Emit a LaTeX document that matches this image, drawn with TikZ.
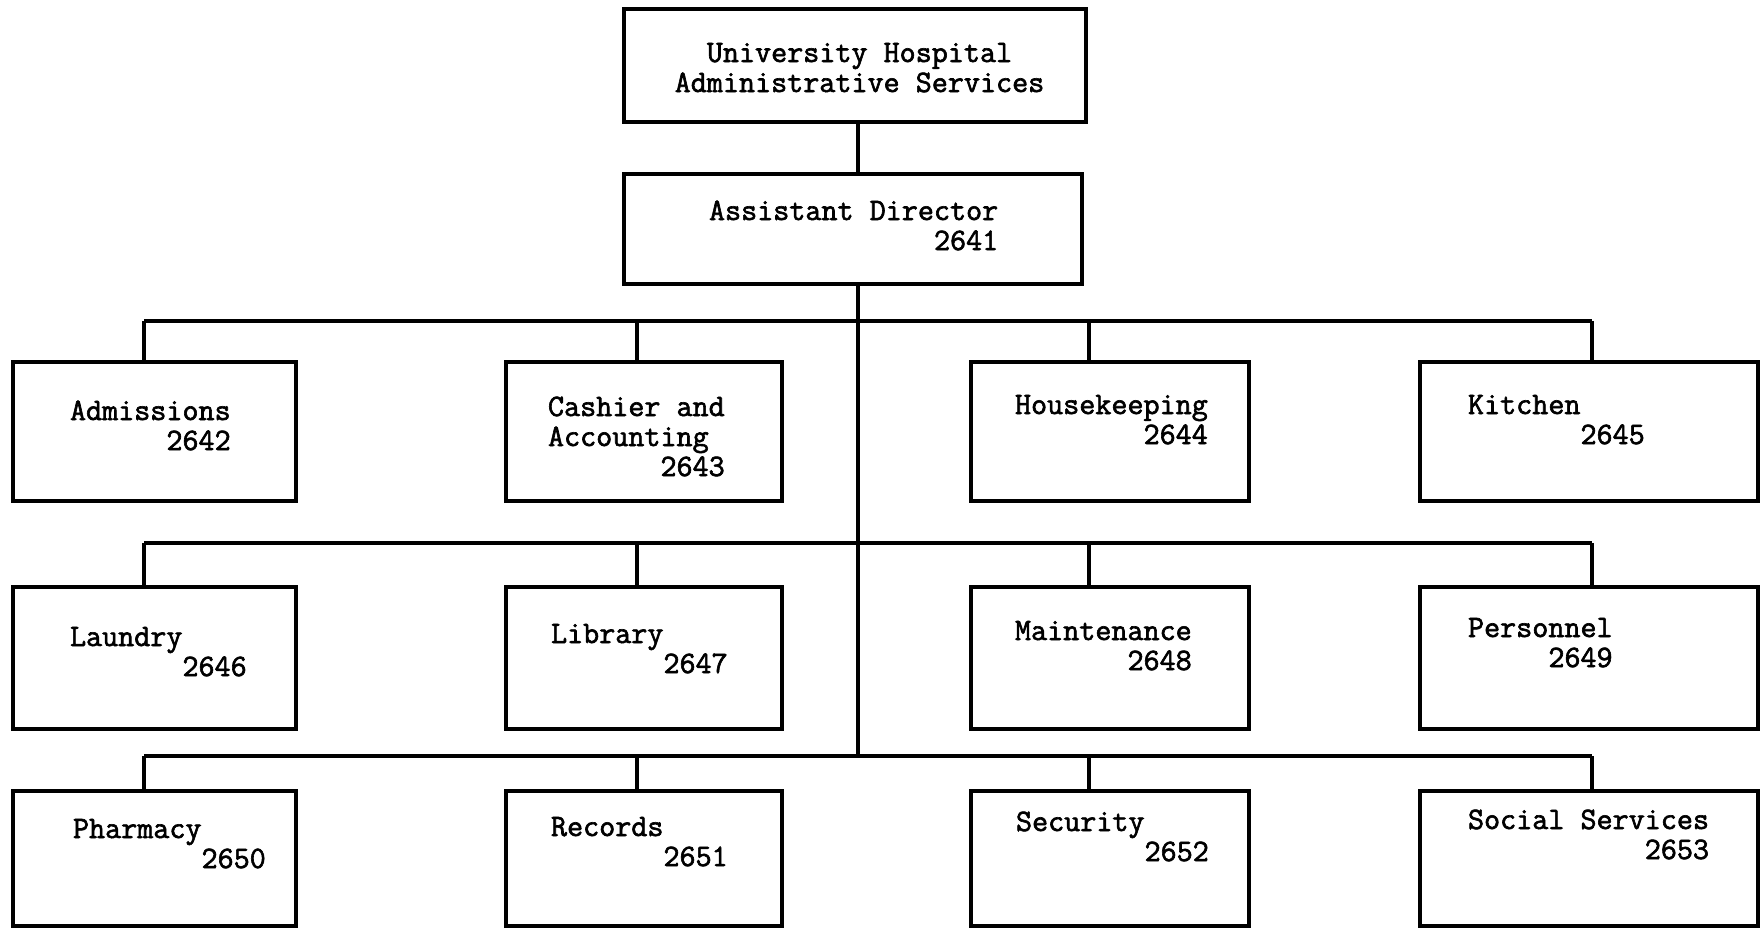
\documentclass[tikz,border=0pt]{standalone}
\usepackage{fontspec}
\newfontfamily\twfont[FakeBold=2]{Latin Modern Mono}
\begin{document}
\begin{tikzpicture}[x=1pt,y=-1pt,
  every node/.style={inner sep=0pt,outer sep=0pt},
  box/.style={draw,rectangle,line width=3.4pt},
  txt/.style={anchor=base west,font=\fontsize{31.2}{30}\selectfont\twfont},
  wire/.style={line width=3.4pt}]
\useasboundingbox (0,0) rectangle (1764,930);
% boxes
\node[box,minimum width=462,minimum height=113] (top) at (855,65.5) {};
\node[box,minimum width=458,minimum height=110] (ad) at (853,229) {};
\node[box,minimum width=283,minimum height=139] (adm) at (154.5,431.5) {};
\node[box,minimum width=276,minimum height=139] (cash) at (644,431.5) {};
\node[box,minimum width=278,minimum height=139] (hk) at (1110,431.5) {};
\node[box,minimum width=338,minimum height=139] (kit) at (1589,431.5) {};
\node[box,minimum width=283,minimum height=142] (lau) at (154.5,658) {};
\node[box,minimum width=276,minimum height=142] (lib) at (644,658) {};
\node[box,minimum width=278,minimum height=142] (mnt) at (1110,658) {};
\node[box,minimum width=338,minimum height=142] (per) at (1589,658) {};
\node[box,minimum width=283,minimum height=135] (pha) at (154.5,858.5) {};
\node[box,minimum width=276,minimum height=135] (rec) at (644,858.5) {};
\node[box,minimum width=278,minimum height=135] (sec) at (1110,858.5) {};
\node[box,minimum width=338,minimum height=135] (soc) at (1589,858.5) {};
% texts (anchor = baseline of the last line)
\node[txt,anchor=base,align=center] (ttop) at (859.5,92) {University Hospital\\Administrative Services};
\node[txt,align=right] (tad) at (709,250) {Assistant Director\\2641};
\node[txt,align=right] (tadm) at (70,450) {Admissions\\2642};
\node[txt,align=left] (tcash) at (548,476) {Cashier and\\Accounting\\\hphantom{Cashier}2643};
\node[txt,align=right] (thk) at (1015,444) {Housekeeping\\2644};
\node[txt,align=left] (tkit) at (1468,444) {Kitchen\\\hphantom{Kitchen}2645};
\node[txt,align=left] (tlau) at (70,676) {Laundry\\\hphantom{Laundry}2646};
\node[txt,align=left] (tlib) at (551,673) {Library\\\hphantom{Library}2647};
\node[txt,align=right] (tmnt) at (1015,670) {Maintenance\\2648};
\node[txt,align=right] (tper) at (1468,667) {Personnel\\2649};
\node[txt,align=left] (tpha) at (73,868) {Pharmacy\\\hphantom{Pharmacy}2650};
\node[txt,align=left] (trec) at (551,866) {Records\\\hphantom{Records}2651};
\node[txt,align=left] (tsec) at (1016,861) {Security\\\hphantom{Security}2652};
\node[txt,align=right] (tsoc) at (1468,859) {Social Services\\2653};
% bus coordinates
\coordinate (c) at (858,0);
\coordinate (bus1) at (858,321);
\coordinate (bus2) at (858,543);
\coordinate (bus3) at (858,756);
\coordinate (x1) at (144,0);
\coordinate (x2) at (637,0);
\coordinate (x3) at (1089,0);
\coordinate (x4) at (1592,0);
% connectors
\draw[wire] (c |- top.south) -- (c |- ad.north);
\draw[wire] (c |- ad.south) -- (bus3);
\foreach \b in {bus1,bus2,bus3}{
  \draw[wire] (x1 |- \b) -- (x4 |- \b);
}
\draw[wire] (x1 |- bus1) -- (x1 |- adm.north);
\draw[wire] (x2 |- bus1) -- (x2 |- cash.north);
\draw[wire] (x3 |- bus1) -- (x3 |- hk.north);
\draw[wire] (x4 |- bus1) -- (x4 |- kit.north);
\draw[wire] (x1 |- bus2) -- (x1 |- lau.north);
\draw[wire] (x2 |- bus2) -- (x2 |- lib.north);
\draw[wire] (x3 |- bus2) -- (x3 |- mnt.north);
\draw[wire] (x4 |- bus2) -- (x4 |- per.north);
\draw[wire] (x1 |- bus3) -- (x1 |- pha.north);
\draw[wire] (x2 |- bus3) -- (x2 |- rec.north);
\draw[wire] (x3 |- bus3) -- (x3 |- sec.north);
\draw[wire] (x4 |- bus3) -- (x4 |- soc.north);
\end{tikzpicture}
\end{document}
